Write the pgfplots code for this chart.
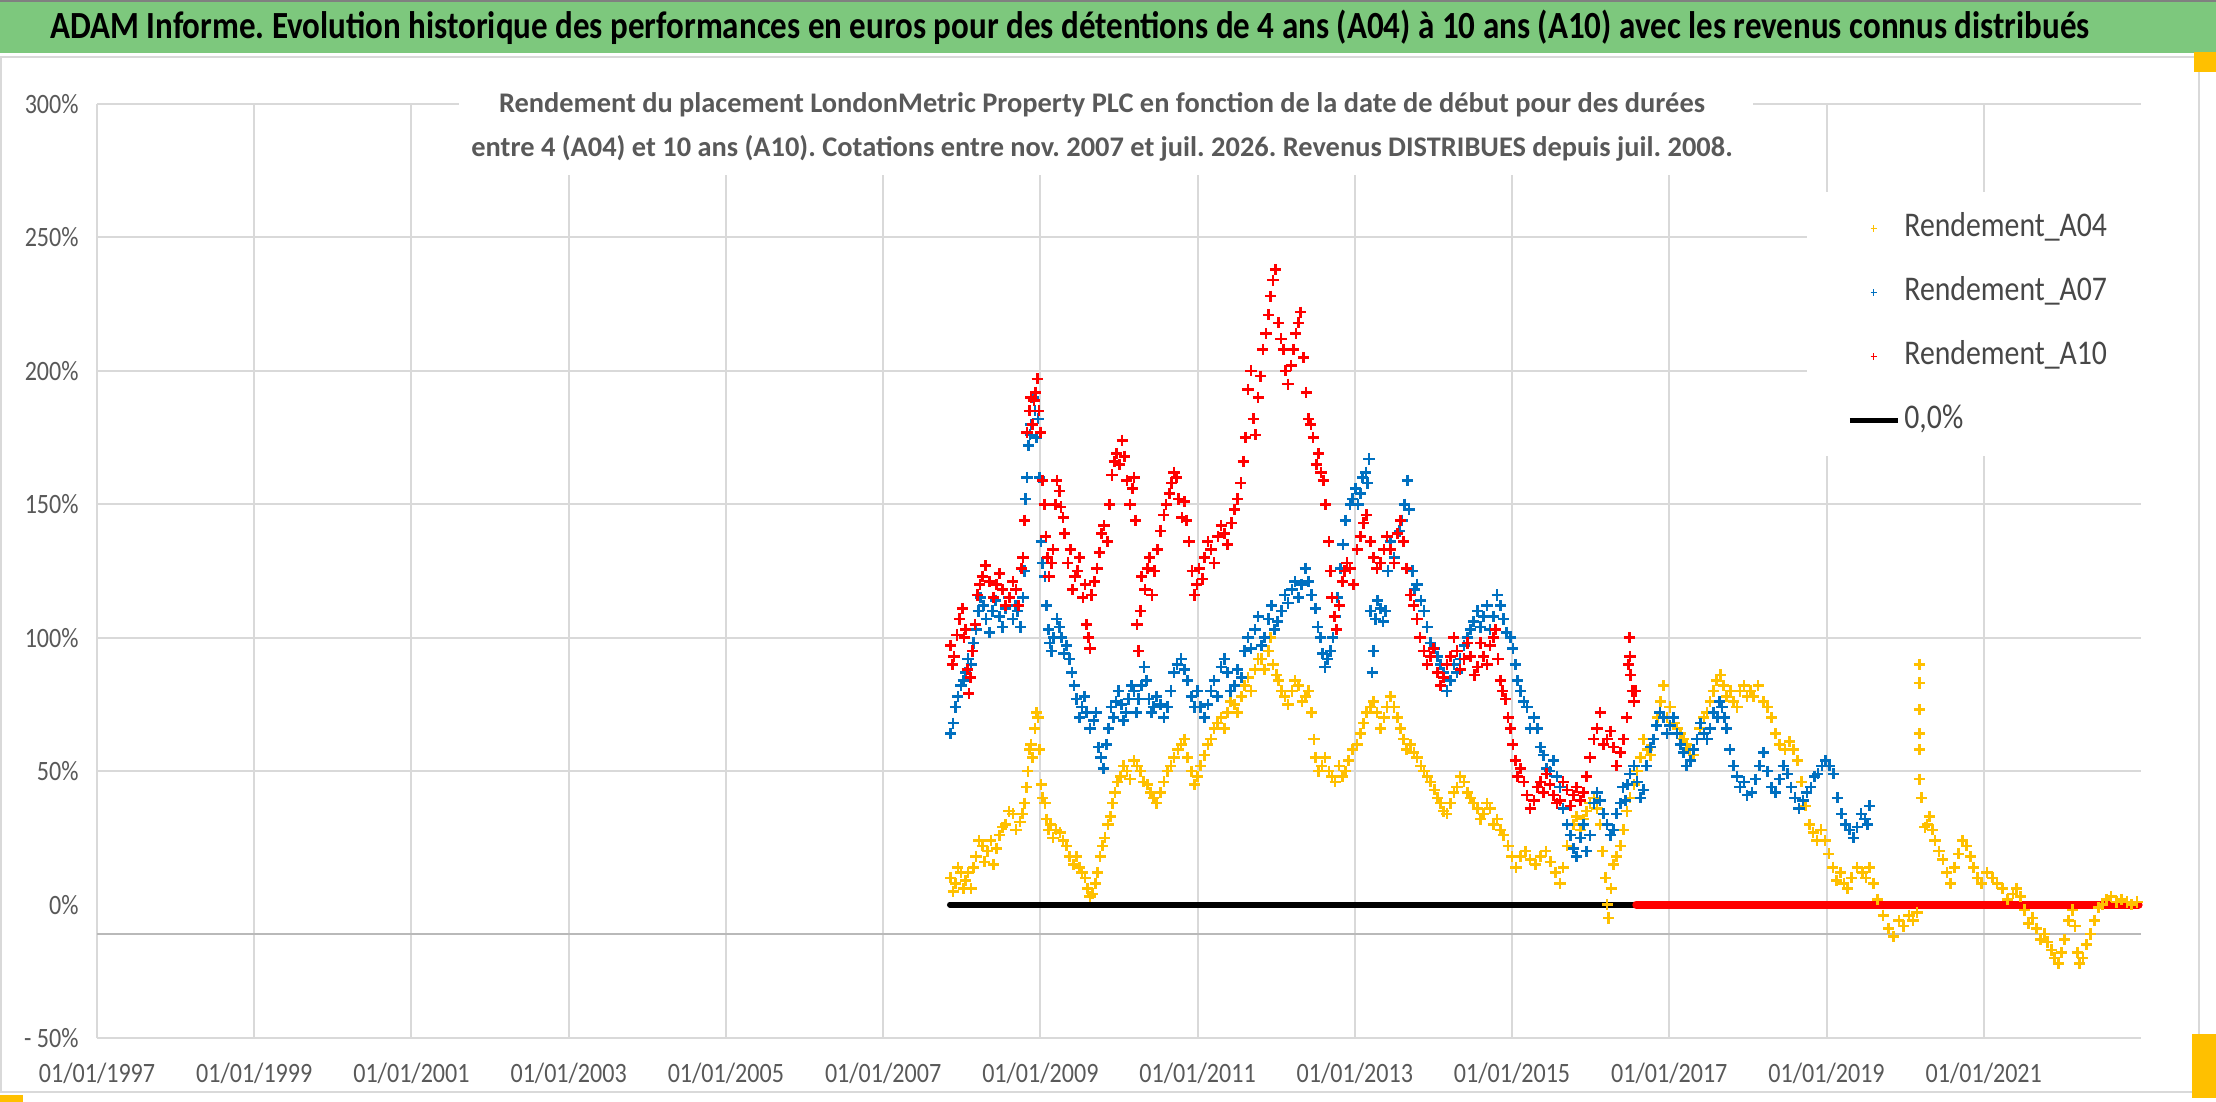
\documentclass[border=0pt]{standalone}
\usepackage{fontspec}
\setmainfont{Carlito}[FakeStretch=0.86]
\newfontfamily\subfont{Carlito}
\usepackage{pgfplots}
\usepackage{pgfplotstable}
\pgfplotsset{compat=1.18}
\frenchspacing
\definecolor{ttlgreen}{HTML}{7DC87D}
\definecolor{gridgray}{HTML}{D9D9D9}
\definecolor{txtgray}{HTML}{595959}
\definecolor{cA04}{HTML}{FFC000}
\definecolor{cA07}{HTML}{0070C0}
\definecolor{cA10}{HTML}{FF0000}
\definecolor{handle}{HTML}{FFC000}
\pgfplotsset{
  markleg/.style={legend image code/.code={\draw[mark repeat=2,mark phase=2,##1, mark size=1.6pt, line width=0.6pt] plot coordinates {(0pt,0pt)(12pt,0pt)(24pt,0pt)};}},
  lineleg/.style={legend image code/.code={\draw[##1] (0pt,0pt) -- (24pt,0pt);}},
  pts/.style={only marks, mark=+, mark size=2.8pt, line width=1.3pt},
}

\pgfplotstableread{
x y
2007.86 10
2007.92 8
2007.99 12
2008.05 9
2008.12 6
2008.18 18
2008.26 22
2008.33 20
2008.40 15
2008.48 26
2008.56 30
2008.65 34
2008.74 31
2008.80 38
2008.84 50
2008.88 60
2008.93 66
2008.97 70
2009.01 45
2009.06 38
2009.10 28
2009.16 25
2009.25 27
2009.33 22
2009.42 15
2009.50 14
2009.57 10
2009.63 3
2009.70 8
2009.76 18
2009.82 25
2009.89 33
2009.95 42
2010.02 48
2010.10 50
2010.19 54
2010.27 50
2010.36 45
2010.44 40
2010.53 42
2010.62 50
2010.70 55
2010.79 60
2010.87 55
2010.96 45
2011.04 52
2011.13 60
2011.21 66
2011.30 70
2011.38 72
2011.47 75
2011.56 78
2011.64 85
2011.73 88
2011.81 92
2011.90 95
2011.96 90
2012.03 84
2012.11 78
2012.20 80
2012.28 82
2012.37 78
2012.45 72
2012.50 55
2012.58 52
2012.67 50
2012.75 46
2012.84 48
2012.92 54
2013.03 60
2013.11 68
2013.20 74
2013.28 72
2013.37 70
2013.45 78
2013.54 70
2013.62 62
2013.71 60
2013.79 55
2013.88 50
2013.96 46
2014.05 40
2014.13 35
2014.22 38
2014.30 44
2014.39 46
2014.47 40
2014.56 36
2014.64 34
2014.72 36
2014.81 32
2014.89 26
2015.00 18
2015.11 18
2015.23 17
2015.36 18
2015.49 16
2015.61 8
2015.70 22
2015.78 30
2015.87 28
2015.95 35
2016.04 40
2016.12 30
2016.19 10
2016.23 -5
2016.29 15
2016.38 22
2016.46 35
2016.55 45
2016.63 55
2016.72 58
2016.80 62
2016.89 76
2016.97 70
2017.06 68
2017.14 64
2017.22 60
2017.31 56
2017.39 66
2017.48 72
2017.56 80
2017.65 86
2017.73 78
2017.82 76
2017.90 80
2017.99 78
2018.07 78
2018.20 76
2018.30 70
2018.40 60
2018.53 61
2018.63 54
2018.73 37
2018.83 27
2018.93 28
2019.03 19
2019.13 9
2019.22 8
2019.32 10
2019.46 12
2019.55 14
2019.65 2
2019.79 -9
2019.92 -6
2020.05 -4
2020.15 -3
2020.18 47
2020.18 58
2020.18 64
2020.18 73
2020.18 83
2020.18 90
2020.25 29
2020.31 33
2020.38 24
2020.48 17
2020.58 8
2020.68 19
2020.78 22
2020.87 14
2020.97 8
2021.11 10
2021.24 6
2021.37 4
2021.47 3
2021.57 -7
2021.67 -9
2021.77 -11
2021.86 -17
2021.95 -22
2022.03 -13
2022.13 -2
2022.19 -18
2022.26 -20
2022.36 -11
2022.46 -1
2022.56 2
2022.69 1
2022.82 1
2022.95 1
}\tableAfour

\pgfplotstableread{
x y
2007.89 5
2007.95 14
2008.02 6
2008.08 12
2008.15 14
2008.22 24
2008.29 16
2008.37 24
2008.44 21
2008.52 29
2008.60 35
2008.69 28
2008.77 34
2008.82 44
2008.86 58
2008.90 55
2008.95 72
2008.99 58
2009.03 40
2009.08 32
2009.13 30
2009.20 28
2009.29 24
2009.37 18
2009.46 18
2009.53 12
2009.60 6
2009.66 4
2009.73 12
2009.79 22
2009.86 30
2009.92 38
2009.98 46
2010.06 52
2010.14 47
2010.23 52
2010.31 46
2010.40 42
2010.48 38
2010.57 46
2010.66 52
2010.75 58
2010.83 62
2010.92 50
2011.00 48
2011.09 56
2011.17 62
2011.25 68
2011.34 66
2011.42 76
2011.51 72
2011.60 82
2011.68 80
2011.77 92
2011.85 88
2011.93 100
2012.00 86
2012.07 80
2012.15 75
2012.24 84
2012.33 76
2012.41 80
2012.48 62
2012.54 50
2012.62 55
2012.71 48
2012.80 52
2012.88 50
2012.97 58
2013.07 64
2013.15 72
2013.24 76
2013.33 66
2013.41 74
2013.50 74
2013.58 66
2013.66 58
2013.75 57
2013.84 52
2013.92 48
2014.01 43
2014.09 38
2014.17 34
2014.26 42
2014.34 48
2014.43 42
2014.51 38
2014.60 32
2014.68 38
2014.76 30
2014.85 28
2014.95 22
2015.05 14
2015.17 20
2015.30 15
2015.43 20
2015.55 12
2015.65 14
2015.74 26
2015.82 33
2015.91 32
2015.99 38
2016.08 36
2016.15 20
2016.21 0
2016.26 6
2016.33 18
2016.42 28
2016.50 40
2016.59 50
2016.67 62
2016.76 56
2016.85 70
2016.93 82
2017.01 74
2017.10 66
2017.18 62
2017.26 58
2017.35 62
2017.44 70
2017.52 76
2017.60 84
2017.69 82
2017.78 80
2017.86 74
2017.95 82
2018.03 80
2018.13 82
2018.25 74
2018.35 64
2018.47 58
2018.58 58
2018.68 46
2018.78 30
2018.88 24
2018.98 24
2019.08 14
2019.18 12
2019.27 6
2019.39 14
2019.50 10
2019.60 8
2019.72 -4
2019.85 -12
2019.98 -8
2020.10 -6
2020.21 40
2020.28 30
2020.35 28
2020.43 20
2020.53 12
2020.63 14
2020.73 24
2020.83 18
2020.92 10
2021.04 12
2021.17 8
2021.30 2
2021.42 6
2021.52 -2
2021.62 -5
2021.72 -13
2021.81 -14
2021.90 -20
2021.99 -18
2022.08 -6
2022.16 -8
2022.22 -22
2022.31 -15
2022.41 -6
2022.51 0
2022.62 3
2022.75 2
2022.88 0
}\tableAfourB

\pgfplotstableread{
x y
2007.86 64
2007.92 74
2007.99 82
2008.05 87
2008.12 90
2008.18 103
2008.24 115
2008.31 107
2008.39 110
2008.48 108
2008.56 111
2008.65 107
2008.71 110
2008.78 115
2008.81 152
2008.85 172
2008.88 180
2008.93 185
2008.97 182
2009.01 136
2009.06 123
2009.10 103
2009.14 95
2009.21 107
2009.27 100
2009.33 97
2009.40 87
2009.46 77
2009.53 74
2009.59 72
2009.68 69
2009.74 59
2009.80 51
2009.87 66
2009.93 70
2009.99 80
2010.06 69
2010.12 77
2010.19 80
2010.25 77
2010.32 89
2010.38 77
2010.44 74
2010.53 75
2010.62 74
2010.70 87
2010.79 92
2010.87 84
2010.96 74
2011.04 74
2011.13 75
2011.21 84
2011.30 89
2011.38 87
2011.47 82
2011.56 85
2011.64 100
2011.73 103
2011.81 97
2011.90 107
2011.98 103
2012.07 110
2012.15 113
2012.24 121
2012.32 120
2012.41 121
2012.50 111
2012.56 100
2012.62 89
2012.69 95
2012.75 108
2012.82 126
2012.88 144
2012.94 150
2013.01 156
2013.07 154
2013.14 162
2013.18 167
2013.22 87
2013.26 107
2013.33 111
2013.39 110
2013.45 136
2013.54 139
2013.60 144
2013.67 159
2013.73 125
2013.79 120
2013.88 110
2013.96 98
2014.05 93
2014.13 87
2014.22 84
2014.30 87
2014.39 97
2014.47 103
2014.56 110
2014.64 108
2014.72 103
2014.81 116
2014.89 107
2014.98 100
2015.04 90
2015.11 80
2015.19 74
2015.28 70
2015.36 59
2015.44 51
2015.53 54
2015.61 44
2015.70 30
2015.78 21
2015.87 25
2015.95 20
2016.04 38
2016.12 39
2016.21 30
2016.29 28
2016.38 38
2016.44 39
2016.50 49
2016.59 46
2016.67 43
2016.76 59
2016.84 67
2016.93 70
2017.01 67
2017.10 64
2017.18 57
2017.27 54
2017.35 62
2017.44 64
2017.52 66
2017.61 70
2017.67 74
2017.73 66
2017.82 52
2017.90 44
2017.99 41
2018.10 47
2018.20 57
2018.30 44
2018.40 47
2018.50 49
2018.60 40
2018.70 39
2018.80 44
2018.89 49
2018.99 54
2019.09 49
2019.19 34
2019.29 28
2019.39 29
2019.49 32
2019.55 37
}\tableAseven

\pgfplotstableread{
x y
2007.89 68
2007.95 78
2008.02 84
2008.08 92
2008.15 98
2008.21 110
2008.28 112
2008.35 102
2008.43 114
2008.52 104
2008.60 115
2008.68 112
2008.75 104
2008.80 125
2008.83 160
2008.87 176
2008.91 190
2008.95 175
2008.99 160
2009.03 128
2009.08 112
2009.12 98
2009.17 100
2009.24 104
2009.30 94
2009.37 92
2009.43 82
2009.50 70
2009.56 78
2009.63 66
2009.71 72
2009.77 55
2009.84 60
2009.90 74
2009.96 76
2010.03 75
2010.09 72
2010.16 82
2010.22 72
2010.29 82
2010.35 84
2010.41 72
2010.48 78
2010.57 70
2010.66 80
2010.74 90
2010.83 88
2010.92 78
2011.00 80
2011.09 70
2011.17 80
2011.25 78
2011.34 92
2011.42 80
2011.51 88
2011.60 95
2011.68 96
2011.77 108
2011.85 100
2011.94 112
2012.02 106
2012.11 116
2012.20 118
2012.28 115
2012.37 126
2012.45 116
2012.53 104
2012.59 94
2012.65 92
2012.72 100
2012.78 115
2012.85 135
2012.97 152
2013.04 150
2013.10 160
2013.16 158
2013.20 110
2013.24 95
2013.29 114
2013.36 106
2013.42 125
2013.50 130
2013.57 140
2013.63 150
2013.69 148
2013.76 118
2013.84 114
2013.92 104
2014.01 96
2014.09 90
2014.17 80
2014.26 90
2014.34 92
2014.43 100
2014.51 106
2014.60 104
2014.68 112
2014.76 108
2014.85 112
2014.93 102
2015.01 96
2015.07 84
2015.15 76
2015.23 66
2015.32 66
2015.40 56
2015.48 50
2015.57 48
2015.65 36
2015.74 26
2015.82 18
2015.91 30
2015.99 26
2016.08 42
2016.16 34
2016.25 26
2016.33 34
2016.41 44
2016.47 45
2016.55 52
2016.63 40
2016.71 52
2016.80 62
2016.88 72
2016.97 64
2017.05 70
2017.14 60
2017.22 52
2017.31 58
2017.40 68
2017.48 62
2017.56 72
2017.64 76
2017.70 70
2017.77 58
2017.86 48
2017.95 46
2018.05 42
2018.15 52
2018.25 50
2018.35 42
2018.45 52
2018.55 44
2018.65 36
2018.75 42
2018.85 48
2018.94 52
2019.04 52
2019.14 40
2019.24 30
2019.34 25
2019.44 34
2019.52 30
}\tableAsevenB

\pgfplotstableread{
x y
2007.86 97
2007.90 93
2007.97 107
2008.01 111
2008.05 103
2008.09 79
2008.14 95
2008.20 116
2008.26 123
2008.35 121
2008.44 120
2008.52 118
2008.61 115
2008.69 118
2008.76 126
2008.80 144
2008.83 177
2008.88 190
2008.92 189
2008.96 197
2009.00 177
2009.03 159
2009.07 138
2009.11 123
2009.16 133
2009.21 159
2009.26 149
2009.31 139
2009.38 133
2009.44 123
2009.50 130
2009.57 120
2009.61 100
2009.65 116
2009.72 126
2009.78 139
2009.85 136
2009.91 161
2009.97 169
2010.04 174
2010.10 159
2010.17 156
2010.21 144
2010.25 95
2010.29 123
2010.36 126
2010.42 116
2010.49 133
2010.57 146
2010.64 154
2010.70 162
2010.76 152
2010.83 151
2010.89 136
2010.96 116
2011.02 126
2011.09 130
2011.17 133
2011.26 138
2011.34 139
2011.43 143
2011.51 152
2011.58 166
2011.64 193
2011.71 182
2011.77 190
2011.83 208
2011.90 221
2011.96 234
2012.03 218
2012.09 208
2012.15 195
2012.22 208
2012.28 218
2012.35 205
2012.41 182
2012.47 175
2012.54 169
2012.60 159
2012.67 136
2012.71 115
2012.77 103
2012.84 121
2012.90 128
2012.94 126
2013.03 133
2013.11 143
2013.20 136
2013.28 126
2013.37 133
2013.45 133
2013.54 139
2013.62 136
2013.71 116
2013.79 107
2013.88 95
2013.96 93
2014.05 87
2014.13 85
2014.22 93
2014.30 95
2014.39 92
2014.47 93
2014.56 89
2014.64 93
2014.72 97
2014.79 103
2014.85 84
2014.92 77
2014.98 66
2015.04 54
2015.11 51
2015.19 41
2015.28 39
2015.36 46
2015.44 49
2015.53 41
2015.61 39
2015.70 43
2015.78 41
2015.87 39
2015.95 48
2016.04 62
2016.12 72
2016.21 62
2016.29 59
2016.38 57
2016.46 70
2016.49 100
2016.50 93
2016.53 80
2016.57 80
}\tableAten

\pgfplotstableread{
x y
2007.88 90
2007.94 101
2008.03 100
2008.07 88
2008.11 85
2008.17 105
2008.23 120
2008.30 127
2008.40 115
2008.48 124
2008.56 112
2008.65 121
2008.72 112
2008.78 130
2008.86 185
2008.90 180
2008.94 192
2008.98 185
2009.05 150
2009.09 130
2009.14 128
2009.19 150
2009.24 155
2009.29 145
2009.35 128
2009.41 118
2009.47 125
2009.54 115
2009.59 105
2009.63 96
2009.69 121
2009.75 132
2009.81 142
2009.88 150
2009.94 166
2010.01 165
2010.07 168
2010.14 150
2010.19 160
2010.23 105
2010.27 110
2010.33 118
2010.39 130
2010.45 125
2010.53 140
2010.60 150
2010.67 158
2010.73 160
2010.80 145
2010.86 144
2010.93 125
2010.99 120
2011.06 122
2011.13 136
2011.21 128
2011.30 142
2011.38 135
2011.47 148
2011.55 158
2011.61 175
2011.68 200
2011.74 176
2011.80 198
2011.87 214
2011.93 228
2011.99 238
2012.06 212
2012.12 200
2012.19 202
2012.25 214
2012.31 222
2012.38 192
2012.44 180
2012.51 165
2012.57 162
2012.63 150
2012.69 125
2012.74 108
2012.80 112
2012.87 125
2012.98 120
2013.07 138
2013.15 146
2013.24 130
2013.33 128
2013.41 138
2013.50 128
2013.58 144
2013.66 126
2013.75 112
2013.83 100
2013.92 90
2014.00 96
2014.09 82
2014.17 90
2014.26 100
2014.34 88
2014.43 98
2014.52 86
2014.60 98
2014.68 90
2014.76 100
2014.82 92
2014.88 80
2014.95 70
2015.01 60
2015.07 48
2015.15 46
2015.23 36
2015.32 44
2015.40 42
2015.48 45
2015.57 38
2015.65 46
2015.74 37
2015.82 44
2015.91 42
2015.99 55
2016.08 66
2016.16 60
2016.25 65
2016.33 52
2016.42 62
2016.48 90
2016.51 86
2016.55 76
}\tableAtenB

\begin{document}
\begin{tikzpicture}[x=1pt,y=1pt]
\path[use as bounding box, fill=white] (0,0) rectangle (1108,551);
% title bar
\fill[ttlgreen] (0,524.5) rectangle (1108,550);
\draw[gray, line width=1.2pt] (0,550.4) -- (1108,550.4);
% chart frame
\draw[gridgray, line width=1.2pt] (0.6,5) -- (0.6,522.5) -- (1099.5,522.5) -- (1099.5,5) -- cycle;

\begin{axis}[
  at={(48.5pt,32pt)}, anchor=south west,
  width=1022pt, height=467pt, scale only axis,
  xmin=1997, xmax=2023, ymin=-50, ymax=300,
  axis line style={draw=none},
  major tick length=0pt,
  xtick={1997,1999,...,2021},
  xticklabels={01/01/1997,01/01/1999,01/01/2001,01/01/2003,01/01/2005,01/01/2007,01/01/2009,01/01/2011,01/01/2013,01/01/2015,01/01/2017,01/01/2019,01/01/2021},
  ytick={-50,50,100,150,200,250,300},
  yticklabels={- 50\%,50\%,100\%,150\%,200\%,250\%,300\%},
  extra y ticks={-11},
  extra y tick labels={},
  extra y tick style={grid style={draw=gray!55, line width=1.2pt}},
  grid=major,
  grid style={draw=gridgray, line width=1pt},
  xticklabel style={font=\fontsize{14}{16}\selectfont, text=txtgray, anchor=base, yshift=-22.5pt},
  yticklabel style={font=\fontsize{14}{16}\selectfont, text=txtgray, anchor=east, inner sep=0pt, xshift=-9pt},
  clip=false,
  legend style={at={(rel axis cs:0.8366,0.9058)}, anchor=north west, draw=none, fill=white,
    inner xsep=20pt, inner ysep=8pt, row sep=12pt,
    font=\fontsize{17.3}{19}\selectfont, text=txtgray!80!black,
    nodes={text height=12pt, text depth=4pt, inner xsep=2pt}},
  legend cell align=left,
]
\addplot[black, line width=3pt, line cap=round, forget plot] coordinates {(2007.85,0) (2022.97,0)};
\addplot[pts, cA04, markleg] table[x=x,y=y] {\tableAfour};
\addlegendentry{\makebox[100pt][l]{Rendement\_A04}}
\addplot[pts, cA04, forget plot] table[x=x,y=y] {\tableAfourB};
\addplot[pts, cA07, markleg] table[x=x,y=y] {\tableAseven};
\addlegendentry{Rendement\_A07}
\addplot[pts, cA07, forget plot] table[x=x,y=y] {\tableAsevenB};
\addplot[pts, cA10, markleg] table[x=x,y=y] {\tableAten};
\addlegendentry{Rendement\_A10}
\addplot[pts, cA10, forget plot] table[x=x,y=y] {\tableAtenB};
\addplot[cA10, line width=4pt, line cap=round, forget plot] coordinates {(2016.58,0) (2022.97,0)};
\addlegendimage{black, line width=2.5pt, lineleg}
\addlegendentry{0,0\%}
\node[anchor=east, inner sep=0pt, xshift=-9pt, text=txtgray, font=\fontsize{14}{16}\selectfont] at (axis cs:1997,0) {0\%};
\end{axis}

% subtitle box and text
\fill[white] (229.5,463.5) rectangle (876.5,511);
\node[text=txtgray, font=\subfont\bfseries\fontsize{14.2}{17}\selectfont, inner sep=0pt] at (551,498.5)
  {Rendement du placement LondonMetric Property PLC en fonction de la date de début pour des durées};
\node[text=txtgray, font=\subfont\bfseries\fontsize{14.2}{17}\selectfont, inner sep=0pt] at (551,477)
  {entre 4 (A04) et 10 ans (A10). Cotations entre nov. 2007 et juil. 2026. Revenus DISTRIBUES depuis juil. 2008.};
% title
\node[text=black, font=\bfseries\fontsize{19.2}{22}\selectfont, inner sep=0pt] at (535,537.5)
  {ADAM Informe. Evolution historique des performances en euros pour des détentions de 4 ans (A04) à 10 ans (A10) avec les revenus connus distribués};
% selection handles
\fill[handle] (0,0) rectangle (11.5,3.5);
\fill[handle] (1096,2) rectangle (1108,34);
\fill[handle] (1097,515) rectangle (1108,525);
\end{tikzpicture}
\end{document}
